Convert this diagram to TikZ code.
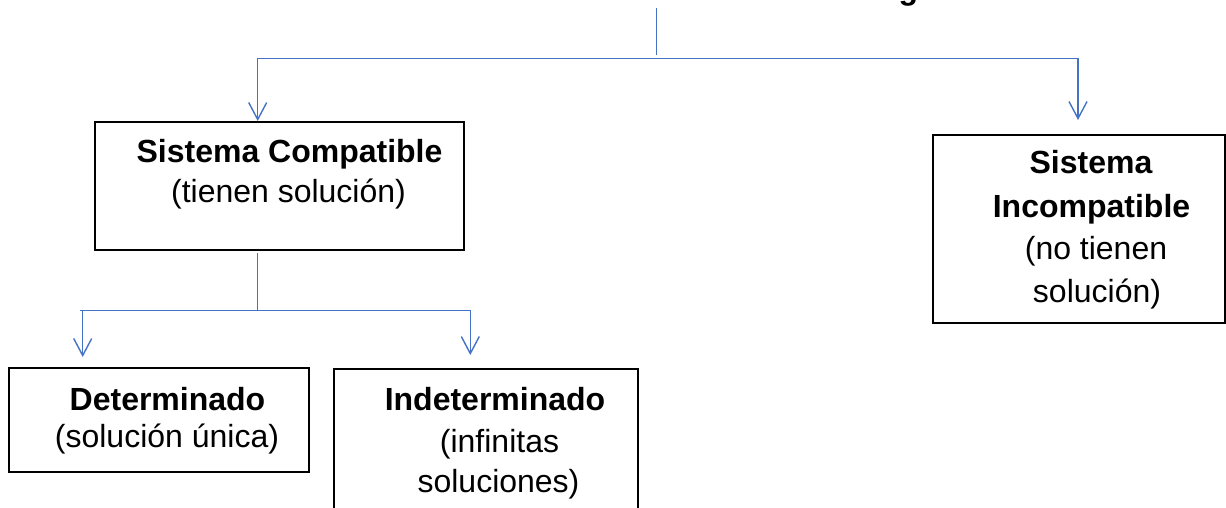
\documentclass[tikz,border=0pt]{standalone}
\usepackage{fontspec}
\setmainfont{Liberation Sans}
\usetikzlibrary{arrows.meta}
\definecolor{conn}{RGB}{68,114,196}
\tikzset{
  box/.style={draw=black, line width=2pt, fill=none, inner sep=0pt, anchor=north west},
  conn/.style={draw=conn, line width=1.4pt},
  carrow/.style={conn, -{Straight Barb[length=17pt, width=18pt, line width=1.4pt]}},
  lbl/.style={anchor=base, inner sep=0pt, font=\fontsize{32}{38}\selectfont},
  blbl/.style={lbl, font=\fontsize{32}{38}\selectfont\bfseries}
}
\begin{document}
\begin{tikzpicture}[x=1pt, y=-1pt]
\useasboundingbox (0,0) rectangle (1226,508);
\clip (0,0) rectangle (1226,508);
% partial title glyph at the top edge
\node[blbl, anchor=base west] (title) at (898.5,-0.5) {g};
% boxes
\node[box, minimum width=369pt, minimum height=128pt] (comp) at (94,121) {};
\node[box, minimum width=292pt, minimum height=188pt] (incomp) at (932,134) {};
\node[box, minimum width=300pt, minimum height=104pt] (det) at (8,367) {};
\node[box, minimum width=304pt, minimum height=160pt] (indet) at (333,368) {};
% texts
\node[blbl] (comp1) at (289.5,162) {Sistema Compatible};
\node[lbl] (comp2) at (288.5,202) {(tienen solución)};
\node[blbl] (inc1) at (1091,173) {Sistema};
\node[blbl] (inc2) at (1091.5,217) {Incompatible};
\node[lbl] (inc3) at (1096,259) {(no tienen};
\node[lbl] (inc4) at (1097,302) {solución)};
\node[blbl] (det1) at (167.5,410) {Determinado};
\node[lbl] (det2) at (167,447) {(solución única)};
\node[blbl] (ind1) at (495,410) {Indeterminado};
\node[lbl] (ind2) at (499.5,452) {(infinitas};
\node[lbl] (ind3) at (498.5,492) {soluciones)};
% connector points
\coordinate (t0) at (656.7,8);
\coordinate (t1) at (656.7,55);
\coordinate (hL) at (257.7,58.3);
\coordinate (hR) at (1078,58.3);
\coordinate (aR) at (1078,120);
\coordinate (v0) at (257.7,253);
\coordinate (v1) at (257.7,310.7);
\coordinate (lL) at (80,310.7);
\coordinate (lR) at (470.7,310.7);
\coordinate (dL) at (82.7,310.7);
\coordinate (aL) at (82.7,357);
\coordinate (dR) at (470.3,310.7);
\coordinate (aI) at (470.3,355);
% connectors
\draw[conn] (t0) -- (t1);
\draw[conn] (hL) -- (hR);
\draw[carrow] (hL) -- (hL |- comp.north);
\draw[carrow] (hR) -- (aR);
\draw[conn] (v0) -- (v1);
\draw[conn] (lL) -- (lR);
\draw[carrow] (dL) -- (aL);
\draw[carrow] (dR) -- (aI);
\end{tikzpicture}
\end{document}
